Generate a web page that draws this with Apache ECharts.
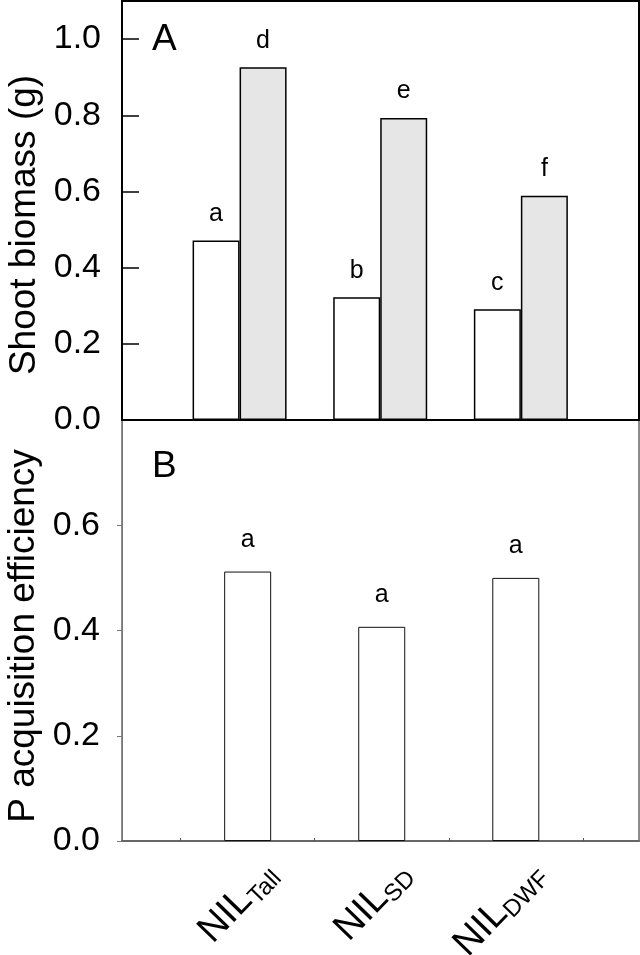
<!DOCTYPE html>
<html><head><meta charset="utf-8">
<script src="https://cdn.jsdelivr.net/npm/echarts@6/dist/echarts.min.js"></script>
<style>html,body{margin:0;padding:0;background:#fff}#c{width:640px;height:955px}</style>
</head><body><div id="c"></div>
<script>
// ---- data ----
const lineNames = ['Tall', 'SD', 'DWF'];
const linePos = [1, 2, 3];
const shootLow = [0.471, 0.322, 0.291];
const shootHigh = [0.926, 0.793, 0.589];
const shootLowLetters = ['a', 'b', 'c'];
const shootHighLetters = ['d', 'e', 'f'];
const paeValues = [0.512, 0.407, 0.500];
const paeLetters = ['a', 'a', 'a'];
const shootTicks = [0, 0.2, 0.4, 0.6, 0.8, 1.0];
const paeTicks = [0, 0.2, 0.4, 0.6];
const paeXTicks = [0.5, 1, 1.5, 2, 2.5, 3, 3.5];

const F = "'Liberation Sans', Arial, Helvetica, sans-serif";
const chart = echarts.init(document.getElementById('c'), null, {renderer: 'canvas'});

const pairs = (vals) => linePos.map((x, i) => [x, vals[i]]);

chart.setOption({
  animation: false,
  backgroundColor: '#fff',
  grid: [
    {left: 122, right: 1, top: 1, height: 419, show: true, borderColor: '#000', borderWidth: 2, containLabel: false, outerBoundsMode: 'none'},
    {left: 122, right: 1, top: 420, height: 421, show: true, borderColor: '#666', borderWidth: 1.5, containLabel: false, outerBoundsMode: 'none'}
  ],
  xAxis: [
    {type: 'value', gridIndex: 0, min: 0.164, max: 3.84,
     axisLine: {show: true, onZero: false, lineStyle: {color: '#000', width: 2}},
     axisTick: {show: false}, axisLabel: {show: false}, splitLine: {show: false}},
    {type: 'value', gridIndex: 1, min: 0.0627, max: 3.919,
     axisLine: {show: true, onZero: false, lineStyle: {color: '#666', width: 2}},
     axisTick: {show: true, inside: true, length: 3, customValues: paeXTicks, lineStyle: {color: '#555', width: 1}},
     axisLabel: {show: true, customValues: linePos, rotate: 46, margin: 52, padding: [0, -34, 0, 0],
       formatter: (v) => '{m|NIL}{s|' + lineNames[Math.round(v) - 1] + '}',
       rich: {
         m: {fontSize: 38, fontFamily: F, color: '#000', verticalAlign: 'bottom'},
         s: {fontSize: 24, fontFamily: F, color: '#000', verticalAlign: 'bottom', padding: [0, 0, -2, 0]}
       }},
     splitLine: {show: false}}
  ],
  yAxis: [
    {type: 'value', gridIndex: 0, min: 0, max: 1.1,
     axisLine: {show: true, onZero: false, lineStyle: {color: '#000', width: 2}},
     axisTick: {show: true, inside: true, length: 17, customValues: shootTicks, lineStyle: {color: '#000', width: 1.5}},
     axisLabel: {show: true, customValues: shootTicks, formatter: (v) => v.toFixed(1), fontSize: 34, fontFamily: F, color: '#000', margin: 21},
     splitLine: {show: false},
     name: 'Shoot biomass (g)', nameLocation: 'middle', nameGap: 79,
     nameTextStyle: {fontSize: 37, fontFamily: F, color: '#000', padding: [0, 29, 0, 0]}},
    {type: 'value', gridIndex: 1, min: 0, max: 0.8,
     axisLine: {show: true, onZero: false, lineStyle: {color: '#777', width: 1}},
     axisTick: {show: true, inside: false, length: 5, customValues: paeTicks, lineStyle: {color: '#777', width: 1}},
     axisLabel: {show: true, customValues: paeTicks, formatter: (v) => v.toFixed(1), fontSize: 34, fontFamily: F, color: '#000', margin: 22},
     splitLine: {show: false},
     name: 'P acquisition efficiency', nameLocation: 'middle', nameGap: 80,
     nameTextStyle: {fontSize: 37, fontFamily: F, color: '#000', padding: [0, 11, 0, 0]}}
  ],
  graphic: [
    {type: 'text', left: 152, top: 21, style: {text: 'A', font: '37px ' + F, fill: '#000'}},
    {type: 'text', left: 152, top: 448, style: {text: 'B', font: '37px ' + F, fill: '#000'}}
  ],
  series: [
    {type: 'bar', xAxisIndex: 0, yAxisIndex: 0, data: pairs(shootLow), barWidth: 47, barGap: '0%',
     itemStyle: {color: '#fff', borderColor: '#000', borderWidth: 1.5},
     label: {show: true, position: 'top', distance: 14, fontSize: 25, fontFamily: F, color: '#000',
             formatter: (p) => shootLowLetters[p.dataIndex]}},
    {type: 'bar', xAxisIndex: 0, yAxisIndex: 0, data: pairs(shootHigh), barWidth: 47, barGap: '0%',
     itemStyle: {color: '#e6e6e6', borderColor: '#000', borderWidth: 1.5},
     label: {show: true, position: 'top', distance: 14, fontSize: 25, fontFamily: F, color: '#000',
             formatter: (p) => shootHighLetters[p.dataIndex]}},
    {type: 'bar', xAxisIndex: 1, yAxisIndex: 1, data: pairs(paeValues), barWidth: 47,
     itemStyle: {color: '#fff', borderColor: '#111', borderWidth: 1},
     label: {show: true, position: 'top', distance: 19, fontSize: 25, fontFamily: F, color: '#000',
             formatter: (p) => paeLetters[p.dataIndex]}}
  ]
});
</script></body></html>
